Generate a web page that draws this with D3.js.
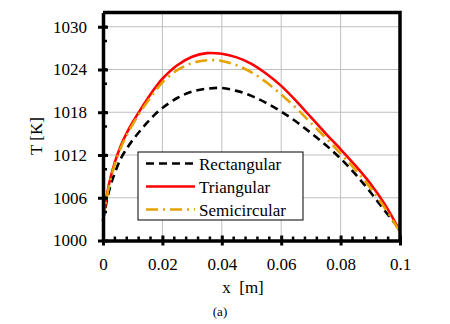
<!DOCTYPE html>
<html>
<head>
<meta charset="utf-8">
<script src="https://cdn.jsdelivr.net/npm/d3@7"></script>
<style>
  body { margin: 0; background: #fff; }
  svg text { font-family: 'Liberation Serif', 'Times New Roman', serif !important; fill: #000; }
</style>
</head>
<body>
<div id="chart"></div>
<script>
// Temperature profiles along x for three fin shapes
const xs = [0, 0.002, 0.004, 0.006, 0.008, 0.01, 0.0125, 0.015, 0.0175, 0.02, 0.025, 0.03, 0.035,
  0.04, 0.045, 0.05, 0.055, 0.06, 0.065, 0.07, 0.075, 0.08, 0.085, 0.09, 0.095, 0.1];

const rectangular = [1002.8, 1006.9, 1009.5, 1011.5, 1012.9, 1014.1, 1015.4, 1016.6, 1017.7, 1018.6,
  1020.0, 1020.9, 1021.3, 1021.4, 1021.0, 1020.3, 1019.3, 1018.1, 1016.7, 1015.1, 1013.4, 1011.5,
  1009.3, 1006.8, 1004.1, 1001.5];

const triangular = [1002.7, 1007.9, 1011.0, 1013.3, 1015.1, 1016.6, 1018.3, 1019.9, 1021.4, 1022.7,
  1024.6, 1025.8, 1026.3, 1026.2, 1025.7, 1024.8, 1023.4, 1021.7, 1019.6, 1017.3, 1015.0, 1012.8,
  1010.5, 1008.0, 1005.0, 1001.3];

const semicircular = [1002.8, 1007.6, 1010.7, 1013.0, 1014.8, 1016.3, 1018.0, 1019.5, 1020.9, 1022.2,
  1023.9, 1024.9, 1025.3, 1025.2, 1024.6, 1023.6, 1022.2, 1020.5, 1018.6, 1016.5, 1014.4, 1012.2,
  1009.9, 1007.4, 1004.5, 1001.2];

const xTicks = [0, 0.02, 0.04, 0.06, 0.08, 0.1];
const xTickLabels = ["0", "0.02", "0.04", "0.06", "0.08", "0.1"];
const yTicks = [1000, 1006, 1012, 1018, 1024, 1030];

const series = [
  { name: "Rectangular", values: rectangular, color: "#000000", dash: "8,5" },
  { name: "Triangular", values: triangular, color: "#ff0000", dash: null },
  { name: "Semicircular", values: semicircular, color: "#e6a200", dash: "12,5,2,5" }
];

const width = 450;
const height = 324;
const margin = { left: 103, right: 50, top: 12.5, bottom: 83.5 };

const svg = d3.select("#chart")
  .append("svg")
  .attr("width", width)
  .attr("height", height);

const x = d3.scaleLinear().domain([0, 0.1]).range([margin.left, width - margin.right]);
const y = d3.scaleLinear().domain([1000, 1032]).range([height - margin.bottom, margin.top]);

// Gridlines
svg.append("g")
  .selectAll("line")
  .data(yTicks.slice(1))
  .join("line")
  .attr("x1", x(0)).attr("x2", x(0.1))
  .attr("y1", d => y(d)).attr("y2", d => y(d))
  .attr("stroke", "#bfbfbf").attr("stroke-width", 1);

svg.append("g")
  .selectAll("line")
  .data(xTicks.slice(1, -1))
  .join("line")
  .attr("x1", d => x(d)).attr("x2", d => x(d))
  .attr("y1", y(1000)).attr("y2", y(1032))
  .attr("stroke", "#bfbfbf").attr("stroke-width", 1);

// Curves
const line = d3.line()
  .x((d, i) => x(xs[i]))
  .y(d => y(d))
  .curve(d3.curveCatmullRom.alpha(0.5));

svg.append("g")
  .selectAll("path")
  .data(series)
  .join("path")
  .attr("d", d => line(d.values))
  .attr("fill", "none")
  .attr("stroke", d => d.color)
  .attr("stroke-width", 2.6)
  .attr("stroke-dasharray", d => d.dash);

// Frame (top and right)
svg.append("path")
  .attr("d", `M${x(0)},${y(1032)}H${x(0.1)}V${y(1000)}`)
  .attr("fill", "none")
  .attr("stroke", "#000")
  .attr("stroke-width", 3.5);

// Minor ticks (inside)
const xMinor = d3.range(0, 0.1001, 0.004).filter(v => Math.abs(v / 0.02 - Math.round(v / 0.02)) > 1e-6);
svg.append("g")
  .selectAll("line")
  .data(xMinor)
  .join("line")
  .attr("x1", d => x(d)).attr("x2", d => x(d))
  .attr("y1", y(1000)).attr("y2", y(1000) - 4)
  .attr("stroke", "#000").attr("stroke-width", 2.5);

const yMinor = d3.range(1002, 1033, 2).filter(v => v % 6 !== 0);
svg.append("g")
  .selectAll("line")
  .data(yMinor)
  .join("line")
  .attr("x1", x(0)).attr("x2", x(0) + 4)
  .attr("y1", d => y(d)).attr("y2", d => y(d))
  .attr("stroke", "#000").attr("stroke-width", 2.5);

// Axes
const xAxis = d3.axisBottom(x)
  .tickValues(xTicks)
  .tickFormat((d, i) => xTickLabels[i])
  .tickSizeInner(5)
  .tickSizeOuter(0)
  .tickPadding(12);

const gx = svg.append("g")
  .attr("transform", `translate(0,${y(1000)})`)
  .call(xAxis)
  .attr("font-family", null)
  .attr("font-size", 17);
gx.select(".domain").attr("stroke-width", 3.5);
gx.selectAll(".tick line").attr("y1", -5).attr("stroke-width", 3);

const yAxis = d3.axisLeft(y)
  .tickValues(yTicks)
  .tickFormat(d3.format("d"))
  .tickSizeInner(5)
  .tickSizeOuter(0)
  .tickPadding(11);

const gy = svg.append("g")
  .attr("transform", `translate(${x(0)},0)`)
  .call(yAxis)
  .attr("font-family", null)
  .attr("font-size", 17);
gy.select(".domain").attr("stroke-width", 3.5);
gy.selectAll(".tick line").attr("x1", 5).attr("x2", -5).attr("stroke-width", 3);

// Axis titles
svg.append("text")
  .attr("x", 243).attr("y", 293)
  .attr("text-anchor", "middle")
  .style("font-size", "17px")
  .style("white-space", "pre")
  .text("x  [m]");

svg.append("text")
  .attr("transform", "translate(42,136) rotate(-90)")
  .attr("text-anchor", "middle")
  .style("font-size", "17px")
  .text("T [K]");

svg.append("text")
  .attr("x", 220).attr("y", 316)
  .attr("text-anchor", "middle")
  .style("font-size", "13px")
  .text("(a)");

// Legend
const legend = svg.append("g").attr("transform", "translate(138,152)");
legend.append("rect")
  .attr("width", 165).attr("height", 68)
  .attr("fill", "#fff").attr("stroke", "#000").attr("stroke-width", 1);

const rows = legend.selectAll("g")
  .data(series)
  .join("g")
  .attr("transform", (d, i) => `translate(0,${11.5 + i * 23})`);

rows.append("line")
  .attr("x1", 8).attr("x2", 57)
  .attr("stroke", d => d.color)
  .attr("stroke-width", 2.6)
  .attr("stroke-dasharray", d => d.dash);

rows.append("text")
  .attr("x", 61).attr("y", 6)
  .style("font-size", "17px")
  .text(d => d.name);
</script>
</body>
</html>
